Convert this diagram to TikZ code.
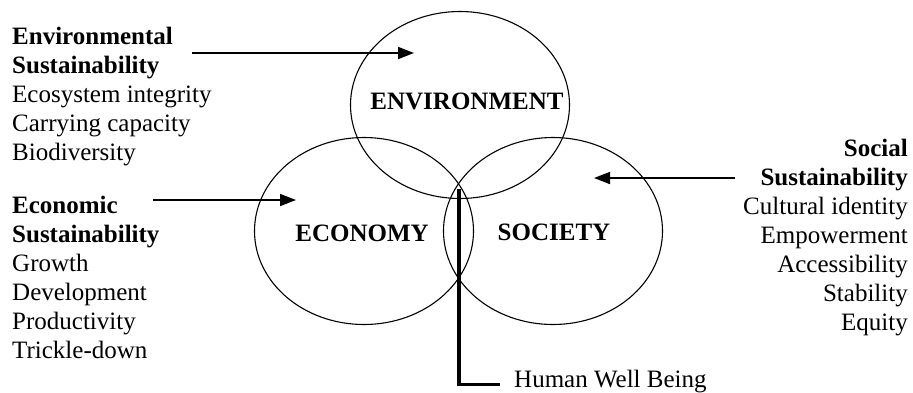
\documentclass[tikz,border=0pt]{standalone}
\usepackage{fontspec}
\setmainfont{Liberation Serif}
\usetikzlibrary{shapes.geometric,arrows.meta}

\begin{document}
\begin{tikzpicture}[x=1pt,y=-1pt,>={Triangle[length=16pt,width=12pt]},
  sphere/.style={ellipse,draw,line width=1.1pt,minimum width=219pt,minimum height=187pt,inner sep=0pt},
  big/.style={font=\fontsize{25}{29}\selectfont},
  label node/.style={big,font=\fontsize{25}{29}\selectfont\bfseries},
  list node/.style={big,inner sep=0pt},
  pointer/.style={->,line width=1.7pt},
  well/.style={line width=3.5pt}]

  \useasboundingbox (0,0) rectangle (913,392);

  \node[sphere] (env) at (460,105) {};
  \node[sphere] (eco) at (364,231) {};
  \node[sphere] (soc) at (553,231) {};

  \node[label node] (envlbl) at (467,101) {ENVIRONMENT};
  \node[label node] (ecolbl) at (362,233) {ECONOMY};
  \node[label node] (soclbl) at (554,232) {SOCIETY};

  \node[list node,anchor=north west,align=left] (envtxt) at (12,27)
    {\textbf{Environmental}\\\textbf{Sustainability}\\Ecosystem integrity\\Carrying capacity\\Biodiversity};
  \node[list node,anchor=north west,align=left] (ecotxt) at (12,196)
    {\textbf{Economic}\\\textbf{Sustainability}\\Growth\\Development\\Productivity\\Trickle-down};
  \node[list node,anchor=north east,align=right] (soctxt) at (908,139)
    {\textbf{Social}\\\textbf{Sustainability}\\Cultural identity\\Empowerment\\Accessibility\\Stability\\Equity};

  \coordinate (envfrom) at (192,53);
  \coordinate (envto) at (414,53);
  \coordinate (ecofrom) at (153,200);
  \coordinate (ecoto) at (296,200);
  \coordinate (socfrom) at (735,178);
  \coordinate (socto) at (594,178);
  \coordinate (core) at (459,189);

  \node[big,inner sep=0pt,inner xsep=14pt,anchor=base west] (hwb) at (500,387) {Human Well Being};

  \draw[pointer] (envfrom) -- (envto);
  \draw[pointer] (ecofrom) -- (ecoto);
  \draw[pointer] (socfrom) -- (socto);
  \draw[well] (core) |- (hwb.mid west);
\end{tikzpicture}
\end{document}
